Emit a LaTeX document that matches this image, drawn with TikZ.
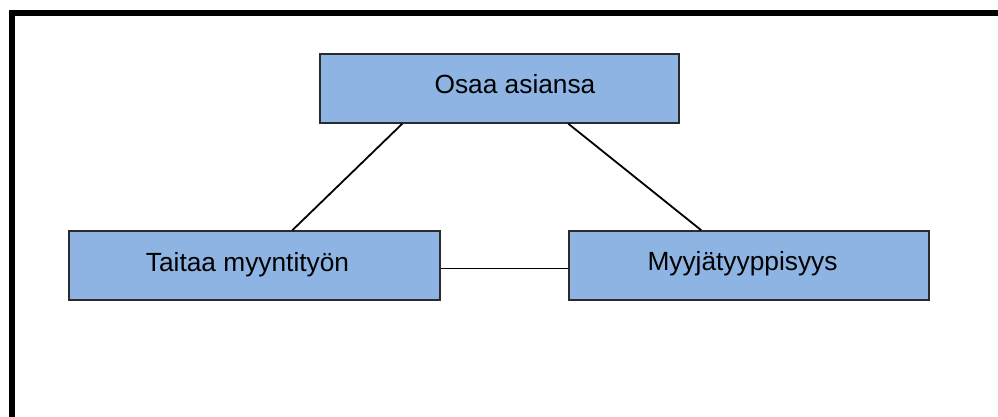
\documentclass[tikz,border=0pt]{standalone}
\usepackage{fontspec}
\setmainfont{Liberation Sans}
\usetikzlibrary{calc}
\definecolor{boxfill}{HTML}{8EB4E3}
\definecolor{boxedge}{HTML}{2B2B2B}
\tikzset{
  box/.style={draw=boxedge, fill=boxfill, line width=1.4pt, inner sep=0pt},
  boxtext/.style={anchor=base, inner sep=0pt, font=\fontsize{26.3}{31}\selectfont},
  link/.style={draw=black, line width=1.8pt}
}
\begin{document}
\begin{tikzpicture}[x=1pt, y=-1pt]
  \useasboundingbox (0,0) rectangle (998,417);
  \clip (0,0) rectangle (998,417);
  \fill[white] (0,0) rectangle (998,417);
  % outer frame, running off the right and bottom edges
  \draw[line width=5.5pt] (12,430) -- (12,12.8) -- (1010,12.8);

  % boxes
  \node[box, minimum width=359pt, minimum height=69pt] (top) at (499.5,88.5) {};
  \node[box, minimum width=371pt, minimum height=69pt] (left) at (254.5,265.5) {};
  \node[box, minimum width=360pt, minimum height=69pt] (right) at (749,265.5) {};

  % labels
  \node[boxtext] (topt) at (515,93.5) {Osaa asiansa};
  \node[boxtext] (leftt) at (247.5,271) {Taitaa myyntityön};
  \node[boxtext] (rightt) at (742.5,270.5) {Myyjätyyppisyys};

  % attachment points on the box borders
  \coordinate (tl) at ($(top.south west)+(83,0)$);
  \coordinate (tr) at ($(top.south west)+(249,0)$);
  \coordinate (lt) at ($(left.north west)+(224,0)$);
  \coordinate (rt) at ($(right.north west)+(133,0)$);
  \coordinate (le) at ($(left.east)+(0,3)$);
  \coordinate (rw) at ($(right.west)+(0,3)$);

  % connectors
  \draw[link] (tl) -- (lt);
  \draw[link] (tr) -- (rt);
  \draw[link] (le) -- (rw);
\end{tikzpicture}
\end{document}
